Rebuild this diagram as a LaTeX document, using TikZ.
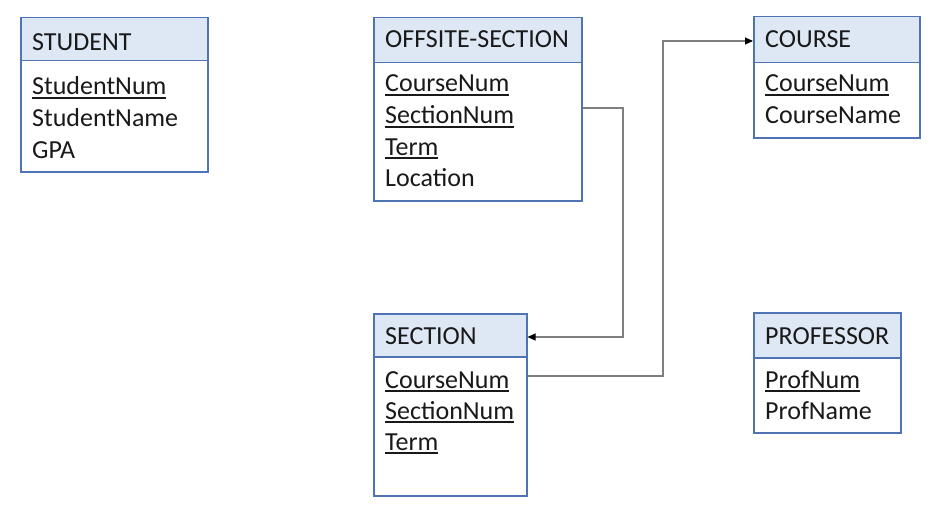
\documentclass[tikz,border=0pt]{standalone}
\usepackage{fontspec}
\setmainfont{Carlito}
\usetikzlibrary{arrows.meta}
\definecolor{boxblue}{HTML}{4F74B5}
\definecolor{hdrfill}{HTML}{DEE8F5}
\definecolor{linkgray}{HTML}{7F7F7F}
\newsavebox{\pkbox}
\newcommand{\pk}[1]{\sbox{\pkbox}{#1}\rlap{\raisebox{-4.2pt}{\rule{\wd\pkbox}{1.8pt}}}\usebox{\pkbox}}
\tikzset{
  entbox/.style={draw=boxblue, line width=1.5pt, fill=white, inner sep=0pt, anchor=north west},
  enthdr/.style={draw=boxblue, line width=1.5pt, fill=hdrfill, inner sep=0pt, anchor=north west},
  etxt/.style={anchor=base west, inner sep=0pt, text=black!90, font=\fontsize{26}{31}\selectfont},
  link/.style={draw=linkgray, line width=1.1pt},
  linkarrow/.style={link, -{Triangle[black,length=8pt,width=7pt]}}
}
\begin{document}
\begin{tikzpicture}[x=1pt,y=-1pt]
\useasboundingbox (0,0) rectangle (936,508);
% STUDENT
\node[entbox, minimum width=187pt, minimum height=154pt] (student) at (20,17) {};
\node[enthdr, minimum width=187pt, minimum height=43pt] (studenth) at (20,17) {};
\node[etxt] (studentt) at (32,51) {STUDENT};
\node[etxt] (s1) at (32,95) {\pk{StudentNum}};
\node[etxt] (s2) at (32,126.5) {StudentName};
\node[etxt] (s3) at (32,158) {GPA};
% OFFSITE-SECTION
\node[entbox, minimum width=208pt, minimum height=183pt] (offsite) at (373,17) {};
\node[enthdr, minimum width=208pt, minimum height=45pt] (offsiteh) at (373,17) {};
\node[etxt] (offsitet) at (385,48) {OFFSITE-SECTION};
\node[etxt] (o1) at (385,92) {\pk{CourseNum}};
\node[etxt] (o2) at (385,123.5) {\pk{SectionNum}};
\node[etxt] (o3) at (385,155) {\pk{Term}};
\node[etxt] (o4) at (385,186) {Location};
% COURSE
\node[entbox, minimum width=166pt, minimum height=121pt] (course) at (753,16) {};
\node[enthdr, minimum width=166pt, minimum height=46pt] (courseh) at (753,16) {};
\node[etxt] (courset) at (765,48) {COURSE};
\node[etxt] (c1) at (765,92) {\pk{CourseNum}};
\node[etxt] (c2) at (765,123.5) {CourseName};
% SECTION
\node[entbox, minimum width=153pt, minimum height=182pt] (section) at (373,313) {};
\node[enthdr, minimum width=153pt, minimum height=43pt] (sectionh) at (373,313) {};
\node[etxt] (sectiont) at (385,344) {SECTION};
\node[etxt] (e1) at (385,388) {\pk{CourseNum}};
\node[etxt] (e2) at (385,419) {\pk{SectionNum}};
\node[etxt] (e3) at (385,450) {\pk{Term}};
% PROFESSOR
\node[entbox, minimum width=147pt, minimum height=120pt] (prof) at (753,312) {};
\node[enthdr, minimum width=147pt, minimum height=45pt] (profh) at (753,312) {};
\node[etxt] (proft) at (765,344) {PROFESSOR};
\node[etxt] (p1) at (765,388) {\pk{ProfNum}};
\node[etxt] (p2) at (765,419) {ProfName};
% connectors
\coordinate (a1) at (offsite.east |- 0,108);
\coordinate (a2) at (sectionh.east |- 0,337);
\draw[linkarrow] (a1) -| (623,223) |- (a2);
\coordinate (b1) at (section.east |- 0,376);
\coordinate (b2) at (courseh.west |- 0,41);
\draw[linkarrow] (b1) -| (663,200) |- (b2);
\end{tikzpicture}
\end{document}
